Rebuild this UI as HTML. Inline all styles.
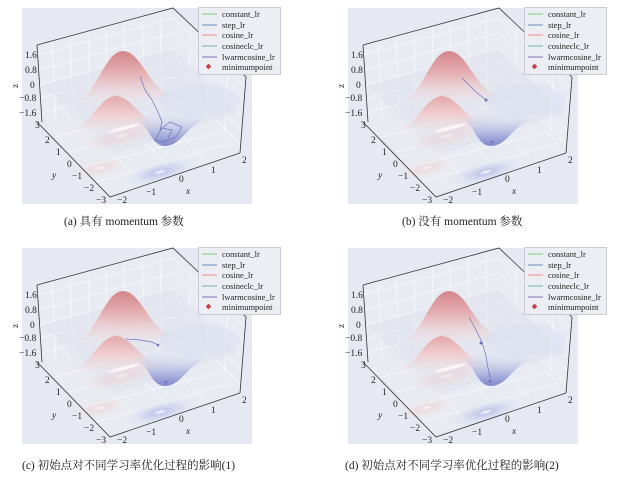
<!DOCTYPE html>
<html><head><meta charset="utf-8"><style>
html,body{margin:0;padding:0;background:#fff;}
svg{display:block;}
text{font-family:"Liberation Serif","Noto Serif CJK SC",serif;fill:#222;}
.t{font-size:9.5px;}
.lg{font-size:8.5px;}
.cap{font-size:11.5px;}
</style></head><body>
<svg width="620" height="480" viewBox="0 0 620 480" xmlns="http://www.w3.org/2000/svg">
<defs>
<linearGradient id="pk" x1="0" y1="0" x2="0" y2="1"><stop offset="0" stop-color="#d3858a"/><stop offset="0.45" stop-color="#e6b3b6"/><stop offset="1" stop-color="#eee2e5" stop-opacity="0.2"/></linearGradient>
<linearGradient id="pk2" x1="0" y1="0" x2="0" y2="1"><stop offset="0" stop-color="#e4a9ac"/><stop offset="0.5" stop-color="#efcdcf"/><stop offset="1" stop-color="#eee2e5" stop-opacity="0.2"/></linearGradient>
<linearGradient id="vl" x1="0" y1="0" x2="0" y2="1"><stop offset="0" stop-color="#dfe3f2" stop-opacity="0.2"/><stop offset="0.6" stop-color="#b1b8e1"/><stop offset="1" stop-color="#8088cb"/></linearGradient>
<radialGradient id="bf" cx="50%" cy="50%" r="50%"><stop offset="0" stop-color="#fff"/><stop offset="0.2" stop-color="#c4c9ea"/><stop offset="1" stop-color="#dde1f3" stop-opacity="0"/></radialGradient>
<radialGradient id="rf" cx="50%" cy="50%" r="50%"><stop offset="0" stop-color="#fff"/><stop offset="0.25" stop-color="#efd2d2"/><stop offset="1" stop-color="#f0dada" stop-opacity="0"/></radialGradient>
<g id="base">
<rect x="22" y="8" width="230" height="196" fill="#e6e9f1"/>
<polygon points="37,45 173,8 246,77 240,153 110,197 42,122" fill="#e9ebf2"/>
<g stroke="#fafbfd" stroke-width="0.7" fill="none">
<line x1="52" y1="41" x2="56" y2="118"/><line x1="70" y1="36" x2="73" y2="113"/><line x1="88" y1="31" x2="90" y2="108"/><line x1="106" y1="26" x2="108" y2="103"/><line x1="124" y1="21" x2="126" y2="98"/><line x1="142" y1="16" x2="144" y2="93"/><line x1="160" y1="11" x2="161" y2="88"/>
<line x1="38" y1="55" x2="173" y2="18"/><line x1="39" y1="70" x2="173" y2="33"/><line x1="40" y1="85" x2="173" y2="48"/><line x1="41" y1="98" x2="173" y2="62"/><line x1="41" y1="113" x2="173" y2="77"/>
<line x1="173" y1="18" x2="245" y2="87"/><line x1="173" y1="33" x2="244" y2="102"/><line x1="173" y1="48" x2="243" y2="117"/><line x1="173" y1="62" x2="242" y2="131"/><line x1="173" y1="77" x2="241" y2="145"/>
<line x1="191" y1="25" x2="188" y2="101"/><line x1="210" y1="43" x2="206" y2="119"/><line x1="228" y1="60" x2="224" y2="136"/>
<line x1="56" y1="137" x2="188" y2="101"/><line x1="70" y1="152" x2="206" y2="116"/><line x1="84" y1="167" x2="222" y2="132"/><line x1="97" y1="182" x2="232" y2="143"/>
<line x1="73" y1="113" x2="138" y2="179"/><line x1="108" y1="103" x2="170" y2="168"/><line x1="144" y1="93" x2="203" y2="158"/>
</g>
<ellipse cx="122" cy="136" rx="40" ry="10" fill="url(#rf)" transform="rotate(-14 122 136)"/>
<ellipse cx="100" cy="168" rx="28" ry="8" fill="url(#rf)" opacity="0.6" transform="rotate(-14 100 168)"/>
<ellipse cx="160" cy="172" rx="38" ry="11" fill="url(#bf)" transform="rotate(-14 160 172)"/>
<polygon points="42,85 173,48 240,112 112,155" fill="#dfe2ec" opacity="0.5"/>
<path d="M78,100 C98,93 104,52 123,51 C142,52 148,88 172,96 C145,104 100,106 78,100 Z" fill="url(#pk)"/>
<path d="M72,130 C92,124 99,97 116,96 C132,97 140,120 162,126 C138,133 96,135 72,130 Z" fill="url(#pk2)"/>
<path d="M135,118 C148,122 150,146 165,146 C180,146 186,128 205,118 C180,112 155,112 135,118 Z" fill="url(#vl)"/>
<ellipse cx="200" cy="100" rx="40" ry="16" fill="#d7dcf0" opacity="0.4"/>
<ellipse cx="124" cy="128" rx="16" ry="1.8" fill="#fff" opacity="0.7" transform="rotate(-14 124 128)"/>
<g stroke="#333" stroke-width="0.8" fill="none">
<polyline points="37,45 173,8 246,77"/>
<line x1="37" y1="45" x2="42" y2="122"/>
<polyline points="37,122 110,197 240,153"/>
<line x1="246" y1="77" x2="240" y2="153"/>
</g>
<rect x="198.5" y="7.5" width="82" height="67" fill="#edeef3" stroke="#b8bcc8" stroke-width="0.7"/>
<line x1="202" y1="14" x2="217" y2="14" stroke="#7fc98a" stroke-width="1"/>
<line x1="202" y1="25" x2="217" y2="25" stroke="#6c8bb5" stroke-width="1"/>
<line x1="202" y1="35" x2="217" y2="35" stroke="#ec8a86" stroke-width="1"/>
<line x1="202" y1="46" x2="217" y2="46" stroke="#6fb0a0" stroke-width="1"/>
<line x1="202" y1="57" x2="217" y2="57" stroke="#7274b4" stroke-width="1"/>
<rect x="206.5" y="64.5" width="4" height="4" fill="#c0454d" transform="rotate(45 208.5 66.5)"/>
</g>
<g id="ticks">
<text class="t" x="25" y="58">1.6</text><text class="t" x="25" y="73">0.8</text><text class="t" x="30" y="88">0</text><text class="t" x="19" y="101">−0.8</text><text class="t" x="19" y="116">−1.6</text>
<text class="t" x="12" y="88" transform="rotate(-90 15 85)">z</text>
<text class="t" x="35" y="128">3</text><text class="t" x="45" y="143">2</text><text class="t" x="56" y="155">1</text><text class="t" x="67" y="167">0</text><text class="t" x="72" y="179">−1</text><text class="t" x="84" y="191">−2</text><text class="t" x="96" y="203">−3</text>
<text class="t" x="52" y="178" font-style="italic">y</text>
<text class="t" x="117" y="203">−2</text><text class="t" x="146" y="195">−1</text><text class="t" x="179" y="182">0</text><text class="t" x="211" y="173">1</text><text class="t" x="242" y="163">2</text>
<text class="t" x="186" y="194" font-style="italic">x</text>
</g>
</defs>

<use href="#base"/>
<use href="#ticks"/>
<polyline points="140,76 145,90 152,100 158,112 162,122 160,130 170,122 182,127 176,137 163,142 155,140 162,128 172,130 168,138" fill="none" stroke="#6d74b8" stroke-width="0.7"/>
<g class="lg"><text x="222" y="17">constant_lr</text><text x="222" y="28">step_lr</text><text x="222" y="38">cosine_lr</text><text x="222" y="49">cosineclc_lr</text><text x="222" y="60">lwarmcosine_lr</text><text x="222" y="70">minimumpoint</text></g>
<text class="cap" x="64" y="225">(a)  具有 momentum 参数</text>

<g transform="translate(326,0)">
<use href="#base"/><use href="#ticks"/>
<polyline points="136,78 150,92 160,100" fill="none" stroke="#6d74b8" stroke-width="0.7"/>
<circle cx="160" cy="100" r="1.5" fill="#6d74b8"/>
<circle cx="166" cy="142" r="1.3" fill="#6d74b8"/>
<g class="lg"><text x="222" y="17">constant_lr</text><text x="222" y="28">step_lr</text><text x="222" y="38">cosine_lr</text><text x="222" y="49">cosineclc_lr</text><text x="222" y="60">lwarmcosine_lr</text><text x="222" y="70">minimumpoint</text></g>
<text class="cap" x="76" y="225">(b)  没有 momentum 参数</text>
</g>

<g transform="translate(0,240)">
<use href="#base"/><use href="#ticks"/>
<polyline points="126,99 140,100 152,102 158,105" fill="none" stroke="#6d74b8" stroke-width="0.7"/>
<circle cx="158" cy="105" r="1.3" fill="#6d74b8"/>
<circle cx="166" cy="142" r="1.3" fill="#6d74b8"/>
<g class="lg"><text x="222" y="17">constant_lr</text><text x="222" y="28">step_lr</text><text x="222" y="38">cosine_lr</text><text x="222" y="49">cosineclc_lr</text><text x="222" y="60">lwarmcosine_lr</text><text x="222" y="70">minimumpoint</text></g>
<text class="cap" x="22" y="229">(c)  初始点对不同学习率优化过程的影响(1)</text>
</g>

<g transform="translate(326,240)">
<use href="#base"/><use href="#ticks"/>
<polyline points="143,77 150,90 156,102 160,116 162,128 164,138" fill="none" stroke="#6d74b8" stroke-width="0.7"/>
<circle cx="155" cy="103" r="1.5" fill="#6d74b8"/>
<circle cx="164" cy="141" r="1.3" fill="#6d74b8"/>
<g class="lg"><text x="222" y="17">constant_lr</text><text x="222" y="28">step_lr</text><text x="222" y="38">cosine_lr</text><text x="222" y="49">cosineclc_lr</text><text x="222" y="60">lwarmcosine_lr</text><text x="222" y="70">minimumpoint</text></g>
<text class="cap" x="19" y="229">(d)  初始点对不同学习率优化过程的影响(2)</text>
</g>
</svg>
</body></html>
